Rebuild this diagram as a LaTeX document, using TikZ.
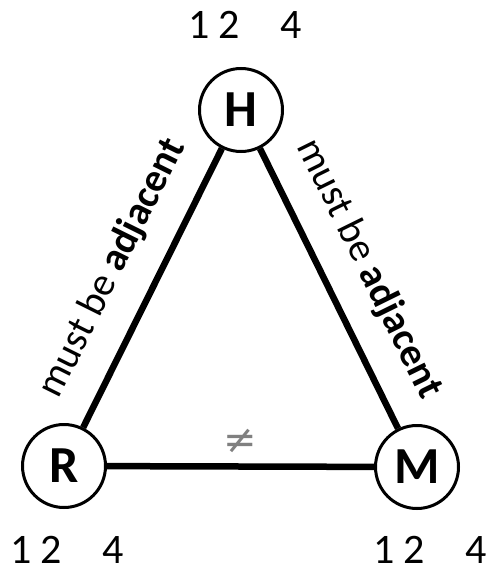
\documentclass[tikz,border=0pt]{standalone}
\usepackage{fontspec}
\setmainfont{Carlito}
\newfontfamily\symbolfont{DejaVu Sans}
\usetikzlibrary{positioning}

\begin{document}
\begin{tikzpicture}[
	x=1pt, y=-1pt,
	person/.style={
		circle,
		draw=black,
		line width=3pt,
		fill=white,
		minimum size=83pt,
		inner sep=0pt,
		font=\fontsize{52}{58}\selectfont\bfseries
	},
	slots/.style={
		inner sep=0pt,
		font=\fontsize{42}{48}\selectfont
	},
	edge/.style={line width=6.5pt, black},
	rule/.style={
		inner sep=0pt,
		font=\fontsize{40}{46}\selectfont
	}
]

	\useasboundingbox (0,0) rectangle (490,569);

	\node[person] (H) at (241,110) {H};
	\node[person] (R) at (64,466) {R};
	\node[person] (M) at (417,467) {M};

	% positions each one can take
	\node[slots] (hslots) at (245,25) {1 2 \phantom{3} 4};
	\node[slots] (rslots) at (67,550) {1 2 \phantom{3} 4};
	\node[slots] (mslots) at (430,550) {1 2 \phantom{3} 4};

	\draw[edge] (R) -- (H) node[rule, midway, sloped, above=24pt] (rh) {must be \textbf{adjacent}};
	\draw[edge] (H) -- (M) node[rule, midway, sloped, above=24pt] (hm) {must be \textbf{adjacent}};
	\draw[edge] (R) -- (M) node[midway, above=10pt, inner sep=0pt, text=black!50, font=\symbolfont\fontsize{40}{44}\selectfont] (neq) {≠};

\end{tikzpicture}
\end{document}
